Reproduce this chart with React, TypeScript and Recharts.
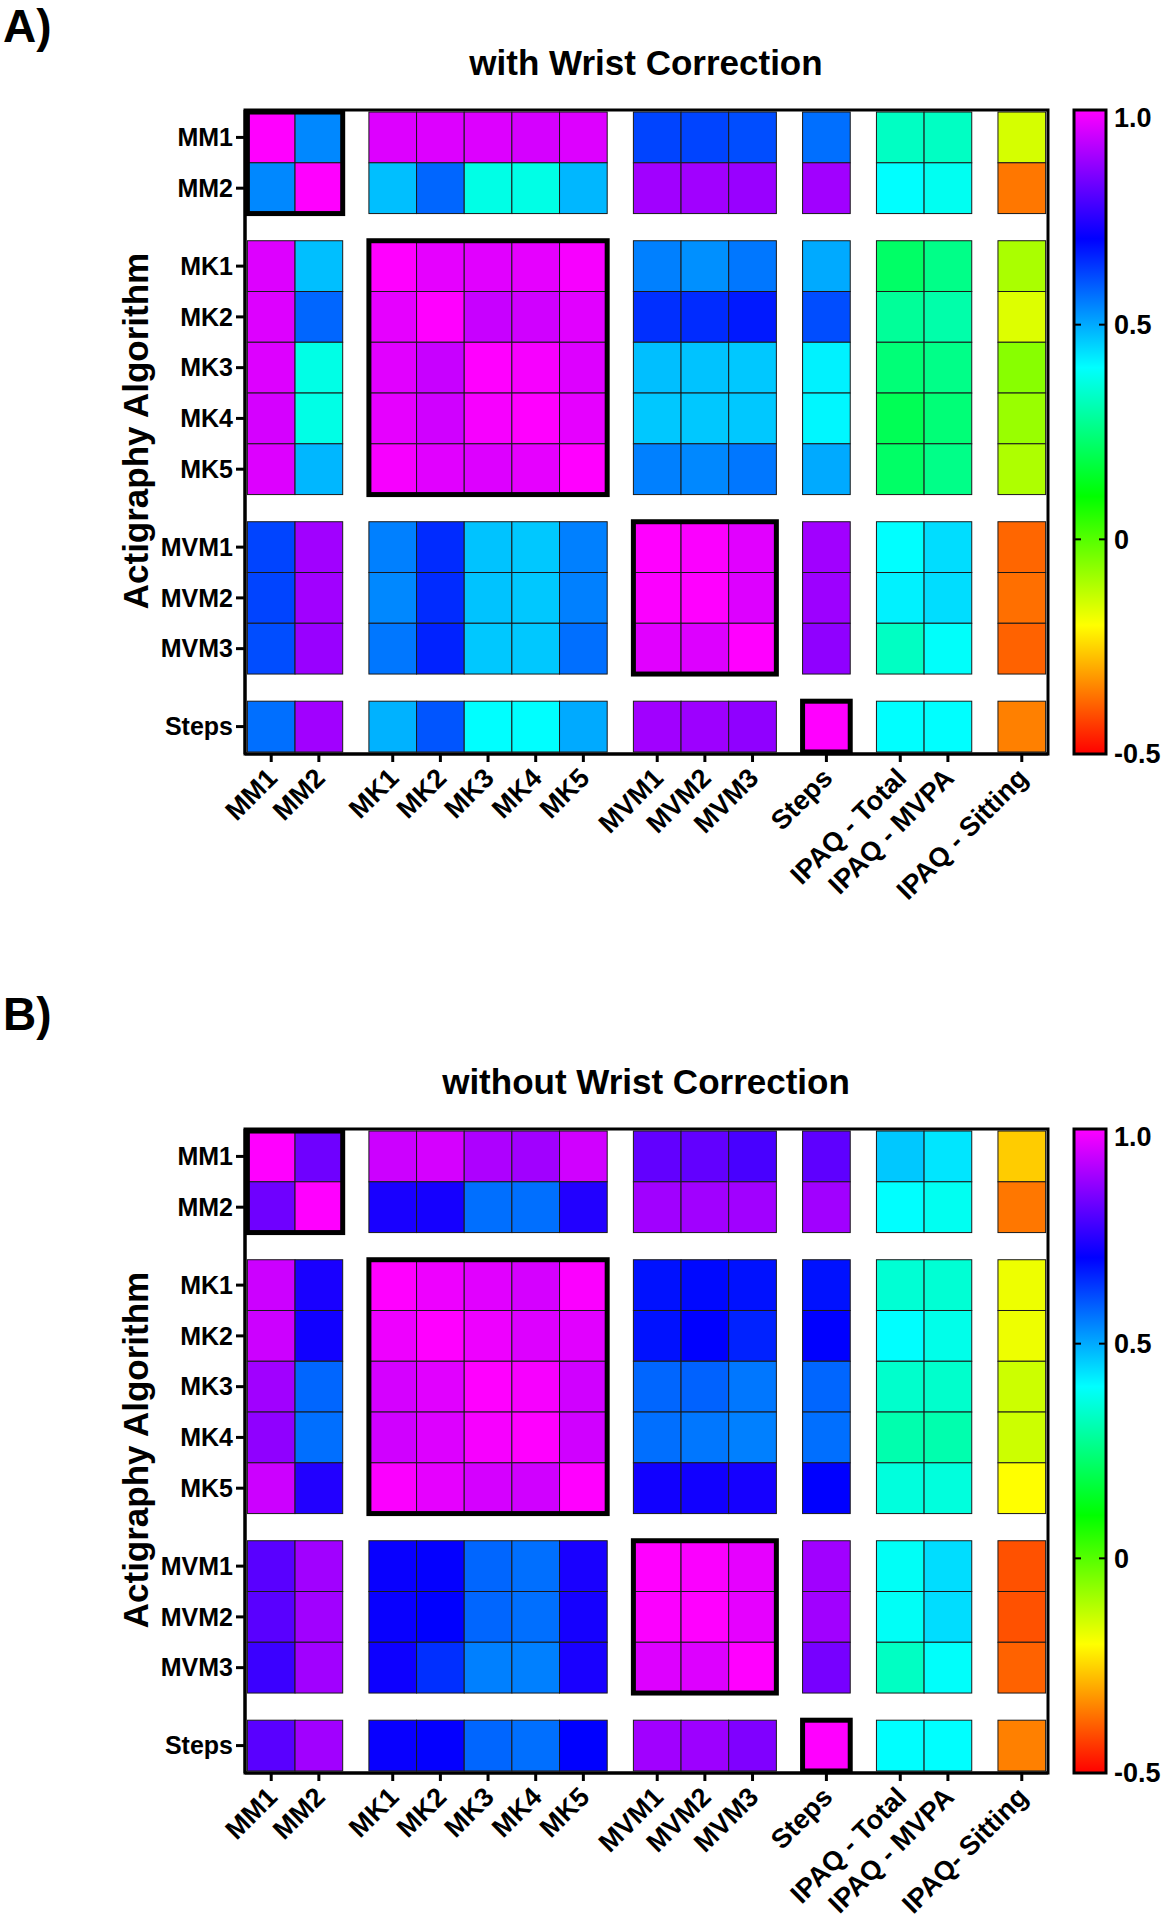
import React from 'react';
import { ScatterChart, Scatter, XAxis, YAxis } from 'recharts';

const FONT = 'Arial, "Liberation Sans", Helvetica, sans-serif';

// rows / columns of the correlation matrix
const rowLabels = ['MM1', 'MM2', 'MK1', 'MK2', 'MK3', 'MK4', 'MK5', 'MVM1', 'MVM2', 'MVM3', 'Steps'];
const rowGroups = [2, 5, 3, 1];
const colLabelsA = ['MM1', 'MM2', 'MK1', 'MK2', 'MK3', 'MK4', 'MK5', 'MVM1', 'MVM2', 'MVM3', 'Steps', 'IPAQ - Total', 'IPAQ - MVPA', 'IPAQ - Sitting'];
const colLabelsB = ['MM1', 'MM2', 'MK1', 'MK2', 'MK3', 'MK4', 'MK5', 'MVM1', 'MVM2', 'MVM3', 'Steps', 'IPAQ - Total', 'IPAQ - MVPA', 'IPAQ- Sitting'];
const colGroups = [2, 5, 3, 1, 2, 1];
// diagonal blocks that get a thick outline [start, end)
const blocks = [[0, 2], [2, 7], [7, 10], [10, 11]];

const withWristCorrection = [
  [1.0, 0.54, 0.96, 0.96, 0.96, 0.95, 0.96, 0.62, 0.62, 0.61, 0.57, 0.33, 0.33, -0.15],
  [0.54, 1.0, 0.475, 0.58, 0.37, 0.37, 0.485, 0.89, 0.89, 0.88, 0.89, 0.4, 0.385, -0.36],
  [0.96, 0.475, 1.0, 0.97, 0.965, 0.97, 0.99, 0.55, 0.53, 0.56, 0.5, 0.22, 0.26, -0.1],
  [0.96, 0.58, 0.97, 1.0, 0.935, 0.945, 0.965, 0.645, 0.65, 0.67, 0.61, 0.28, 0.3, -0.16],
  [0.96, 0.37, 0.965, 0.935, 1.0, 0.99, 0.96, 0.475, 0.47, 0.465, 0.415, 0.24, 0.26, -0.06],
  [0.95, 0.37, 0.97, 0.945, 0.99, 1.0, 0.97, 0.465, 0.465, 0.465, 0.41, 0.2, 0.24, -0.08],
  [0.96, 0.485, 0.99, 0.965, 0.96, 0.97, 1.0, 0.55, 0.54, 0.56, 0.5, 0.22, 0.26, -0.105],
  [0.62, 0.89, 0.55, 0.65, 0.47, 0.465, 0.55, 1.0, 0.995, 0.965, 0.89, 0.4, 0.44, -0.38],
  [0.62, 0.89, 0.54, 0.65, 0.47, 0.465, 0.55, 0.995, 1.0, 0.96, 0.885, 0.415, 0.44, -0.37],
  [0.61, 0.88, 0.56, 0.66, 0.465, 0.465, 0.57, 0.965, 0.96, 1.0, 0.87, 0.33, 0.395, -0.385],
  [0.57, 0.89, 0.49, 0.6, 0.4, 0.4, 0.5, 0.89, 0.885, 0.87, 1.0, 0.4, 0.4, -0.35],
];

const withoutWristCorrection = [
  [1.0, 0.83, 0.94, 0.95, 0.905, 0.89, 0.945, 0.815, 0.815, 0.785, 0.81, 0.465, 0.43, -0.26],
  [0.83, 1.0, 0.73, 0.725, 0.57, 0.57, 0.74, 0.89, 0.89, 0.89, 0.89, 0.4, 0.385, -0.36],
  [0.94, 0.73, 1.0, 0.98, 0.965, 0.95, 0.995, 0.68, 0.69, 0.68, 0.68, 0.35, 0.35, -0.18],
  [0.94, 0.72, 0.98, 1.0, 0.98, 0.96, 0.965, 0.68, 0.7, 0.66, 0.7, 0.4, 0.375, -0.18],
  [0.89, 0.58, 0.95, 0.965, 1.0, 0.99, 0.945, 0.58, 0.585, 0.56, 0.58, 0.34, 0.34, -0.14],
  [0.87, 0.57, 0.945, 0.96, 0.99, 1.0, 0.945, 0.57, 0.56, 0.55, 0.57, 0.305, 0.305, -0.14],
  [0.94, 0.74, 0.995, 0.97, 0.95, 0.945, 1.0, 0.72, 0.72, 0.725, 0.7, 0.36, 0.36, -0.2],
  [0.805, 0.89, 0.71, 0.705, 0.58, 0.57, 0.73, 1.0, 0.995, 0.97, 0.89, 0.39, 0.44, -0.405],
  [0.805, 0.89, 0.71, 0.7, 0.58, 0.57, 0.725, 0.995, 1.0, 0.97, 0.89, 0.39, 0.44, -0.405],
  [0.77, 0.89, 0.715, 0.645, 0.55, 0.55, 0.73, 0.96, 0.96, 1.0, 0.84, 0.33, 0.395, -0.385],
  [0.805, 0.89, 0.71, 0.705, 0.58, 0.57, 0.7, 0.89, 0.885, 0.85, 1.0, 0.4, 0.4, -0.35],
];

const colorbarTicks = [1.0, 0.5, 0, -0.5];
const colorbarTickText = ['1.0', '0.5', '0', '-0.5'];
const CMIN = -0.5;
const CMAX = 1.0;

// layout
const W = 1161;
const H = 1000;
const Y_AXIS_W = 245;
const TOP = 110;
const RIGHT = 113;
const X_AXIS_H = 200;
const BOTTOM = 46;
const PLOT_W = W - Y_AXIS_W - RIGHT;
const PLOT_H = H - TOP - X_AXIS_H - BOTTOM;
const GAP_X = 0.55;
const GAP_Y = 0.535;
const PANEL_B_TOP = 1019;

function centers(groups: number[], gap: number) {
  const out: number[] = [];
  let i = 0;
  groups.forEach((n, g) => {
    for (let k = 0; k < n; k++) {
      out.push(i + 0.5 + g * gap);
      i++;
    }
  });
  return out;
}

const colPos = centers(colGroups, GAP_X);
const rowPos = centers(rowGroups, GAP_Y);
const X0 = -0.05;
const X1 = colPos[colPos.length - 1] + 0.55;
const Y0 = -0.04;
const Y1 = rowPos[rowPos.length - 1] + 0.54;
const UX = PLOT_W / (X1 - X0);
const UY = PLOT_H / (Y1 - Y0);

function corrColor(v: number) {
  const t = Math.max(0, Math.min(1, (v - CMIN) / (CMAX - CMIN)));
  return `hsl(${(t * 300).toFixed(1)}, 100%, 50%)`;
}

const findIdx = (arr: number[], v: number) => arr.findIndex((p) => Math.abs(p - v) < 1e-6);

const CellShape = (p: any) => (
  <rect x={p.cx - UX / 2} y={p.cy - UY / 2} width={UX} height={UY} fill={corrColor(p.payload.v)} stroke="#1a1a1a" strokeWidth={1} />
);

const BoxShape = (p: any) => {
  const w = p.payload.w * UX;
  const h = p.payload.h * UY;
  return <rect x={p.cx - w / 2} y={p.cy - h / 2} width={w} height={h} fill="none" stroke="#000" strokeWidth={p.payload.sw} />;
};

function Panel({ values, colLabels, top }: { values: number[][]; colLabels: string[]; top: number }) {
  const cells = values.flatMap((row, r) => row.map((v, c) => ({ x: colPos[c], y: rowPos[r], v })));
  const boxes = [
    { x: (X0 + X1) / 2, y: (Y0 + Y1) / 2, w: X1 - X0, h: Y1 - Y0, sw: 3 },
    ...blocks.map(([s, e]) => ({
      x: (colPos[s] + colPos[e - 1]) / 2,
      y: (rowPos[s] + rowPos[e - 1]) / 2,
      w: colPos[e - 1] - colPos[s] + 1,
      h: rowPos[e - 1] - rowPos[s] + 1,
      sw: 5,
    })),
  ];

  const XTick = (p: any) => {
    const i = findIdx(colPos, p.payload.value);
    const ax = p.x + 1;
    const ay = p.y + 9;
    return (
      <text x={ax} y={ay} dy="0.35em" transform={`rotate(-45 ${ax} ${ay})`} textAnchor="end" fontSize={27} fontWeight="bold" fontFamily={FONT} fill="#000">
        {colLabels[i]}
      </text>
    );
  };

  const YTick = (p: any) => {
    const i = findIdx(rowPos, p.payload.value);
    return (
      <text x={p.x} y={p.y} dy="0.35em" textAnchor="end" fontSize={25} fontWeight="bold" fontFamily={FONT} fill="#000">
        {rowLabels[i]}
      </text>
    );
  };

  return (
    <div style={{ position: 'absolute', left: 0, top, width: W, height: H }}>
      <ScatterChart width={W} height={H} margin={{ top: TOP, right: RIGHT, bottom: BOTTOM, left: 0 }}>
        <XAxis
          type="number"
          dataKey="x"
          domain={[X0, X1]}
          ticks={colPos}
          interval={0}
          height={X_AXIS_H}
          tick={<XTick />}
          tickSize={8}
          tickMargin={2}
          axisLine={{ stroke: '#000', strokeWidth: 3 }}
          tickLine={{ stroke: '#000', strokeWidth: 3 }}
        />
        <YAxis
          type="number"
          dataKey="y"
          domain={[Y0, Y1]}
          reversed
          ticks={rowPos}
          interval={0}
          width={Y_AXIS_W}
          tick={<YTick />}
          tickSize={9}
          tickMargin={3}
          axisLine={{ stroke: '#000', strokeWidth: 3 }}
          tickLine={{ stroke: '#000', strokeWidth: 3 }}
        />
        <Scatter data={cells} shape={CellShape} isAnimationActive={false} />
        <Scatter data={boxes} shape={BoxShape} isAnimationActive={false} />
      </ScatterChart>
    </div>
  );
}

function Decorations({ top, title }: { top: number; title: string }) {
  const cbX = 1074;
  const cbW = 32;
  const cbY = top + TOP;
  const cbH = PLOT_H;
  const valueY = (v: number) => cbY + ((CMAX - v) / (CMAX - CMIN)) * cbH;
  return (
    <g fontFamily={FONT} fontWeight="bold" fill="#000">
      <text x={646} y={top + 75} textAnchor="middle" fontSize={35}>
        {title}
      </text>
      <text x={148} y={top + 431} textAnchor="middle" fontSize={35} transform={`rotate(-90 148 ${top + 431})`}>
        Actigraphy Algorithm
      </text>
      <rect x={cbX} y={cbY} width={cbW} height={cbH} fill="url(#rainbow)" stroke="#000" strokeWidth={3} />
      {colorbarTicks.map((v, i) => {
        const y = valueY(v);
        const ly = i === 0 ? y + 8 : y;
        return (
          <g key={v}>
            {v < CMAX && v > CMIN && (
              <>
                <line x1={cbX} x2={cbX + 7} y1={y} y2={y} stroke="#000" strokeWidth={2} />
                <line x1={cbX + cbW - 7} x2={cbX + cbW} y1={y} y2={y} stroke="#000" strokeWidth={2} />
              </>
            )}
            <text x={cbX + cbW + 8} y={ly} dy="0.35em" fontSize={27}>
              {colorbarTickText[i]}
            </text>
          </g>
        );
      })}
    </g>
  );
}

const gradientStops: number[] = [];
for (let v = CMAX; v >= CMIN - 1e-9; v -= 0.05) gradientStops.push(v);

export default function App() {
  return (
    <div style={{ position: 'absolute', left: 0, top: 0, width: 1161, height: 1920, background: '#fff', overflow: 'hidden' }}>
      <Panel values={withWristCorrection} colLabels={colLabelsA} top={0} />
      <Panel values={withoutWristCorrection} colLabels={colLabelsB} top={PANEL_B_TOP} />
      <svg width={1161} height={1920} style={{ position: 'absolute', left: 0, top: 0, pointerEvents: 'none' }}>
        <defs>
          <linearGradient id="rainbow" x1="0" y1="0" x2="0" y2="1">
            {gradientStops.map((v) => (
              <stop key={v.toFixed(3)} offset={(CMAX - v) / (CMAX - CMIN)} stopColor={corrColor(v)} />
            ))}
          </linearGradient>
        </defs>
        <text x={3} y={42} fontSize={46} fontWeight="bold" fontFamily={FONT}>
          A)
        </text>
        <text x={3} y={1030} fontSize={46} fontWeight="bold" fontFamily={FONT}>
          B)
        </text>
        <Decorations top={0} title="with Wrist Correction" />
        <Decorations top={PANEL_B_TOP} title="without Wrist Correction" />
      </svg>
    </div>
  );
}
